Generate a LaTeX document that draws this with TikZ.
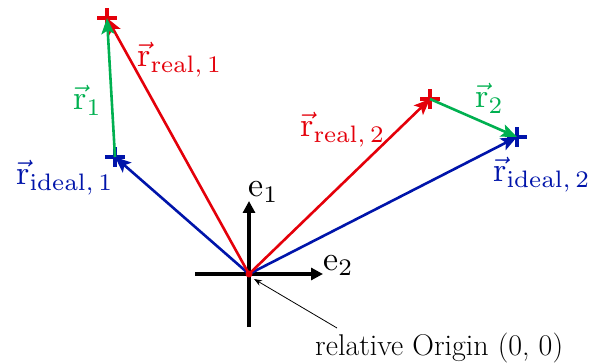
\documentclass[tikz,border=0pt]{standalone}
\usepackage{graphicx}
\usetikzlibrary{arrows.meta}
\definecolor{cred}{RGB}{228,0,10}
\definecolor{cblue}{RGB}{0,20,170}
\definecolor{cgreen}{RGB}{0,176,80}
\tikzset{
  vecarrow/.style={line width=2.6pt,-{Stealth[length=16pt,width=13pt,inset=3.5pt]}},
  axisarrow/.style={line width=3.2pt,black,-{Triangle[length=12pt,width=12pt]}},
  plusmark/.style={line width=3.4pt},
  lbl/.style={inner sep=0pt,anchor=base west},
  note/.style={inner sep=0pt,anchor=base west,font=\fontsize{30}{34}\selectfont},
}
\newcommand{\vr}{\vec{\mathrm{r}}}
\newcommand{\bigsc}[1]{\scalebox{3.4}{#1}}
\begin{document}
\begin{tikzpicture}[x=1pt,y=-1pt]
\useasboundingbox (0,0) rectangle (607,363);
\coordinate (O) at (249,274);
\coordinate (R1) at (107,18);
\coordinate (I1) at (115,157);
\coordinate (R2) at (430,99);
\coordinate (I2) at (517,137);
\coordinate (axL) at (195,274);
\coordinate (axR) at (323,274);
\coordinate (axB) at (249,327);
\coordinate (axT) at (249,201);
\coordinate (noteStart) at (337,328);
\coordinate (noteEnd) at (254,279);
% plus markers
\foreach \p/\c in {R1/cred,I1/cblue,R2/cred,I2/cblue}{
  \draw[plusmark,\c] ([xshift=-10pt]\p) -- ([xshift=10pt]\p);
  \draw[plusmark,\c] ([yshift=-10pt]\p) -- ([yshift=10pt]\p);
}
% axes
\draw[axisarrow] (axL) -- (axR);
\draw[axisarrow] (axB) -- (axT);
% vectors
\draw[vecarrow,cblue] (O) -- (I1);
\draw[vecarrow,cblue] (O) -- (I2);
\draw[vecarrow,cred] (O) -- (R1);
\draw[vecarrow,cred] (O) -- (R2);
\draw[vecarrow,cgreen] (I1) -- (R1);
\draw[vecarrow,cgreen] (R2) -- (I2);
\fill[cred] (O) circle (3.5pt);
% annotation
\draw[line width=0.8pt,-{Stealth[length=8pt,width=6pt]}] (noteStart) -- (noteEnd);
% labels
\node[lbl,cred] (lR1) at (137,67) {\bigsc{$\vr_{\mathrm{real,\,1}}$}};
\node[lbl,cgreen] (lr1) at (73,110) {\bigsc{$\vr_{1}$}};
\node[lbl,cblue] (lI1) at (16,185) {\bigsc{$\vr_{\mathrm{ideal,\,1}}$}};
\node[lbl,cred] (lR2) at (300,137) {\bigsc{$\vr_{\mathrm{real,\,2}}$}};
\node[lbl,cgreen] (lr2) at (475,108) {\bigsc{$\vr_{2}$}};
\node[lbl,cblue] (lI2) at (493,182) {\bigsc{$\vr_{\mathrm{ideal,\,2}}$}};
\node[lbl] (le1) at (248,197) {\bigsc{$\mathrm{e}_1$}};
\node[lbl] (le2) at (323,270) {\bigsc{$\mathrm{e}_2$}};
\node[note] (lorig) at (315,355) {relative Origin (0, 0)};
\end{tikzpicture}
\end{document}
